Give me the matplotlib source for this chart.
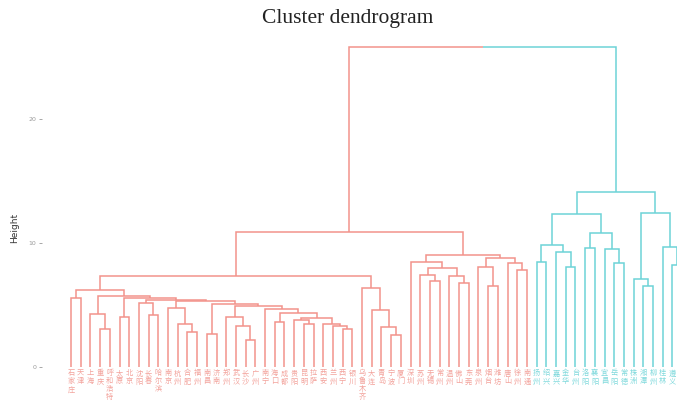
import matplotlib
matplotlib.use('Agg')
import matplotlib.pyplot as plt

# leaf labels in display order
leaf_labels = ['石家庄', '天津', '上海', '重庆', '呼和浩特', '太原', '北京', '沈阳', '长春', '哈尔滨',
               '南京', '杭州', '合肥', '福州', '南昌', '济南', '郑州', '武汉', '长沙', '广州',
               '南宁', '海口', '成都', '贵阳', '昆明', '拉萨', '西安', '兰州', '西宁', '银川',
               '乌鲁木齐', '大连', '青岛', '宁波', '厦门', '深圳', '苏州', '无锡', '常州', '温州',
               '佛山', '东莞', '泉州', '烟台', '潍坊', '唐山', '徐州', '南通',
               '扬州', '绍兴', '嘉兴', '金华', '台州', '洛阳', '襄阳', '宜昌',
               '岳阳', '常德', '株洲', '湘潭', '柳州', '桂林', '遵义', '绵阳']
cluster_sizes = [48, 16]

# merges, bottom-up (ints = leaves, strings = earlier merges)
merge_name = ['A', 'B1', 'B', 'C', 'D1', 'D', 'E1', 'E2', 'E', 'F', 'G1', 'G2', 'G', 'I',
              'L1', 'L', 'M1', 'M2', 'M', 'R8', 'R7', 'R6', 'R5', 'R4', 'R3', 'R2', 'R1', 'X1', 'P',
              'Q1', 'Q2', 'Q3', 'Q', 'LG',
              'S1', 'S2', 'S3', 'S4', 'S5', 'S6', 'T1', 'T2', 'T3', 'T4', 'T5', 'RG', 'RED',
              'U1', 'U2', 'U3', 'U4', 'V1', 'V2', 'V3', 'V4', 'U',
              'W1', 'W2', 'W3', 'W4', 'W', 'CY', 'ROOT']
merge_left = [0, 3, 2, 5, 8, 7, 12, 11, 10, 14, 18, 17, 16, 21,
              24, 23, 28, 27, 26, 'L', 'I', 20, 'G', 'F', 'E', 'D', 'C', 'B', 'A',
              33, 32, 31, 30, 'P',
              37, 36, 40, 39, 'S2', 35, 43, 42, 46, 45, 'T2', 'S6', 'LG',
              48, 51, 50, 'U1', 53, 56, 55, 'V1', 'U4',
              59, 58, 62, 61, 'W2', 'U', 'RED']
merge_right = [1, 4, 'B1', 6, 9, 'D1', 13, 'E1', 'E2', 15, 19, 'G1', 'G2', 22,
               25, 'L1', 29, 'M1', 'M2', 'M', 'R8', 'R7', 'R6', 'R5', 'R4', 'R3', 'R2', 'R1', 'X1',
               34, 'Q1', 'Q2', 'Q3', 'Q',
               38, 'S1', 41, 'S3', 'S4', 'S5', 44, 'T1', 47, 'T3', 'T4', 'T5', 'RG',
               49, 52, 'U2', 'U3', 54, 57, 'V2', 'V3', 'V4',
               60, 'W1', 63, 'W3', 'W4', 'W', 'CY']
merge_height = [5.6, 3.1, 4.3, 4.0, 4.2, 5.2, 2.8, 3.5, 4.75, 2.7, 2.2, 3.3, 4.0, 3.6,
                3.5, 3.75, 3.1, 3.3, 3.5, 3.95, 4.35, 4.7, 4.9, 5.1, 5.3, 5.4, 5.55, 5.7, 6.2,
                2.6, 3.2, 4.6, 6.4, 7.3,
                6.9, 7.4, 6.8, 7.3, 8.0, 8.5, 6.5, 8.1, 7.8, 8.4, 8.8, 9.0, 10.9,
                8.5, 8.1, 9.3, 9.8, 9.6, 8.4, 9.55, 10.8, 12.3,
                6.5, 7.1, 8.2, 9.7, 12.4, 14.1, 25.8]

cluster_colors = ['#F2938B', '#6DD3D7']
label_colors = ['#F3A39C', '#7FD9DC']

# leaf -> cluster
leaf_cluster = []
for k, size in enumerate(cluster_sizes):
    leaf_cluster += [k] * size

pos = {}
hgt = {}
first = {}
for i in range(len(leaf_labels)):
    pos[i] = i
    hgt[i] = 0.0
    first[i] = i
for name, l, r, h in zip(merge_name, merge_left, merge_right, merge_height):
    pos[name] = (pos[l] + pos[r]) / 2.0
    hgt[name] = h
    first[name] = first[l]

fig = plt.figure(figsize=(6.77, 4.03), dpi=100)
ax = fig.add_axes([42 / 677, 0.0032, 635 / 677, 0.9015])

for name, l, r in zip(merge_name, merge_left, merge_right):
    for c in (l, r):
        col = cluster_colors[leaf_cluster[first[c]]]
        ax.plot([pos[c], pos[c], pos[name]], [hgt[c], hgt[name], hgt[name]],
                color=col, lw=1.1, solid_capstyle='butt', solid_joinstyle='miter')

for i, lab in enumerate(leaf_labels):
    ax.text(i, -0.2, '\n'.join(lab), ha='center', va='top', fontsize=5.2,
            linespacing=1.0, color=label_colors[leaf_cluster[i]],
            family=['Noto Sans CJK SC', 'DejaVu Sans'], clip_on=True)

ax.set_xlim(-2.99, 62.47)
ax.set_ylim(-2.8, 26.5)
ax.set_xticks([])
ax.set_yticks([0, 10, 20])
ax.tick_params(axis='y', length=2.5, width=0.6, color='#999999', pad=1.5,
               labelsize=4.5, labelcolor='#999999')
for s in ax.spines.values():
    s.set_visible(False)

fig.text(15 / 677, 1 - 228 / 403, 'Height', rotation=90, ha='center', va='center',
         fontsize=6.5, color='#333333')
fig.text(348 / 677, 1 - 18 / 403, 'Cluster dendrogram', ha='center', va='center',
         fontsize=15.5, family='Liberation Serif', color='#222222')

fig.savefig('out.png', dpi=100)
